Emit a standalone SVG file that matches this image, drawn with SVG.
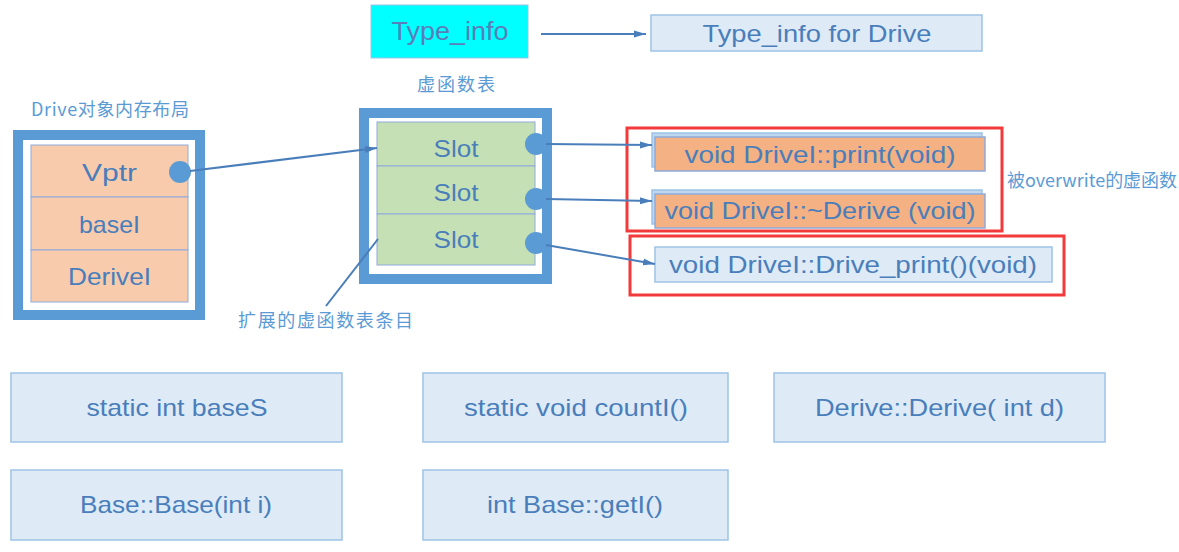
<svg xmlns="http://www.w3.org/2000/svg" width="1179" height="552" viewBox="0 0 1179 552">
<style>
.t{font-family:"Liberation Sans","Noto Sans",sans-serif;fill:#4A7EBB;text-anchor:middle}
.lbl{font-family:"Noto Sans CJK SC","Noto Sans",sans-serif;fill:#5B9BD5;font-size:18px}
.frame{fill:#fff;stroke:#5B9BD5;stroke-width:10}
.peach{fill:#F8CBAD;stroke:#8FAADC;stroke-width:1}
.green{fill:#C5E0B4;stroke:#8FAADC;stroke-width:1}
.lb{fill:#DEEBF7;stroke:#9DC3E6;stroke-width:1.5}
.orange{fill:#F4B183;stroke:#8FAADC;stroke-width:1.5}
.back{fill:#BDD7EE;stroke:#9DC3E6;stroke-width:1.5}
.red{fill:none;stroke:#F23A3A;stroke-width:3}
.dot{fill:#5B9BD5}
.conn{stroke:#4A7EBB;stroke-width:2;fill:none}
</style>
<defs>
<marker id="ah" markerUnits="userSpaceOnUse" markerWidth="12" markerHeight="8" refX="12" refY="4" orient="auto">
<path d="M0,0.5 L12,4 L0,7.5 z" fill="#4A7EBB"/>
</marker>
</defs>

<g id="typeinfo">
<rect x="371" y="5" width="157" height="53" fill="#00FFFF" stroke="#9DC3E6" stroke-width="1"/>
<text class="t" x="450" y="40" font-size="25" textLength="117" lengthAdjust="spacingAndGlyphs" style="fill:#5B7DB8">Type_info</text>
</g>
<g id="typeinfo-drive">
<rect class="lb" x="651" y="15" width="331" height="36"/>
<text class="t" x="817" y="42" font-size="24" textLength="229" lengthAdjust="spacingAndGlyphs">Type_info for Drive</text>
</g>

<g id="object-label"><text class="lbl" x="31" y="116" textLength="158" lengthAdjust="spacing">Drive对象内存布局</text></g>
<g id="object">
<rect class="frame" x="18" y="135" width="182" height="180"/>
<rect class="peach" x="31" y="145" width="157" height="52"/>
<rect class="peach" x="31" y="197" width="157" height="53"/>
<rect class="peach" x="31" y="250" width="157" height="52"/>
<text class="t" x="109.5" y="181" font-size="24" textLength="55" lengthAdjust="spacingAndGlyphs">Vptr</text>
<text class="t" x="109.5" y="233" font-size="24" textLength="61" lengthAdjust="spacingAndGlyphs">baseI</text>
<text class="t" x="109.5" y="285" font-size="24" textLength="83" lengthAdjust="spacingAndGlyphs">DeriveI</text>
<circle class="dot" cx="180" cy="172" r="11"/>
</g>

<g id="vtable-label"><text class="lbl" x="417" y="91" textLength="78" lengthAdjust="spacing">虚函数表</text></g>
<g id="vtable">
<rect class="frame" x="364" y="113" width="183" height="166"/>
<rect class="green" x="377" y="122" width="158" height="44"/>
<rect class="green" x="377" y="166" width="158" height="48"/>
<rect class="green" x="377" y="214" width="158" height="51"/>
<text class="t" x="456" y="157" font-size="24" textLength="45" lengthAdjust="spacingAndGlyphs">Slot</text>
<text class="t" x="456" y="201" font-size="24" textLength="45" lengthAdjust="spacingAndGlyphs">Slot</text>
<text class="t" x="456" y="248" font-size="24" textLength="45" lengthAdjust="spacingAndGlyphs">Slot</text>
<circle class="dot" cx="536" cy="144" r="11"/>
<circle class="dot" cx="536" cy="199" r="11"/>
<circle class="dot" cx="536" cy="243" r="11"/>
</g>

<g id="ext-label"><text class="lbl" x="238" y="327" textLength="175" lengthAdjust="spacing">扩展的虚函数表条目</text></g>

<g id="overwrite-group">
<rect class="red" x="627" y="128" width="375" height="103"/>
<rect class="back" x="652" y="133" width="330" height="34"/>
<rect class="orange" x="655" y="137" width="330" height="34"/>
<text class="t" x="820" y="163" font-size="24" textLength="271" lengthAdjust="spacingAndGlyphs">void DriveI::print(void)</text>
<rect class="back" x="652" y="190" width="330" height="34"/>
<rect class="orange" x="655" y="194" width="330" height="34"/>
<text class="t" x="820" y="219" font-size="24" textLength="311" lengthAdjust="spacingAndGlyphs">void DriveI::~Derive (void)</text>
</g>
<g id="overwrite-label"><text class="lbl" x="1007" y="187" textLength="170" lengthAdjust="spacingAndGlyphs">被overwrite的虚函数</text></g>

<g id="drive-print">
<rect class="red" x="630" y="236" width="434" height="59"/>
<rect class="lb" x="655" y="247" width="397" height="35"/>
<text class="t" x="853" y="273" font-size="24" textLength="368" lengthAdjust="spacingAndGlyphs">void DriveI::Drive_print()(void)</text>
</g>

<g id="baseS"><rect class="lb" x="11" y="373" width="331" height="69"/><text class="t" x="177" y="416" font-size="24" textLength="181" lengthAdjust="spacingAndGlyphs">static int baseS</text></g>
<g id="countI"><rect class="lb" x="423" y="373" width="305" height="69"/><text class="t" x="576" y="416" font-size="24" textLength="224" lengthAdjust="spacingAndGlyphs">static void countI()</text></g>
<g id="derive-ctor"><rect class="lb" x="774" y="373" width="331" height="69"/><text class="t" x="939.5" y="416" font-size="24" textLength="249" lengthAdjust="spacingAndGlyphs">Derive::Derive( int d)</text></g>
<g id="base-ctor"><rect class="lb" x="11" y="470" width="331" height="70"/><text class="t" x="176" y="513" font-size="24" textLength="192" lengthAdjust="spacingAndGlyphs">Base::Base(int i)</text></g>
<g id="getI"><rect class="lb" x="423" y="470" width="305" height="70"/><text class="t" x="575" y="513" font-size="24" textLength="176" lengthAdjust="spacingAndGlyphs">int Base::getI()</text></g>

<g id="connectors">
<line class="conn" x1="541" y1="34" x2="646" y2="34" marker-end="url(#ah)"/>
<line class="conn" x1="190" y1="171" x2="377" y2="148" marker-end="url(#ah)"/>
<line class="conn" x1="546" y1="144" x2="652" y2="145" marker-end="url(#ah)"/>
<line class="conn" x1="546" y1="199" x2="652" y2="201" marker-end="url(#ah)"/>
<line class="conn" x1="546" y1="245" x2="655" y2="264" marker-end="url(#ah)"/>
<line class="conn" x1="378" y1="239" x2="326" y2="306"/>
</g>
</svg>
